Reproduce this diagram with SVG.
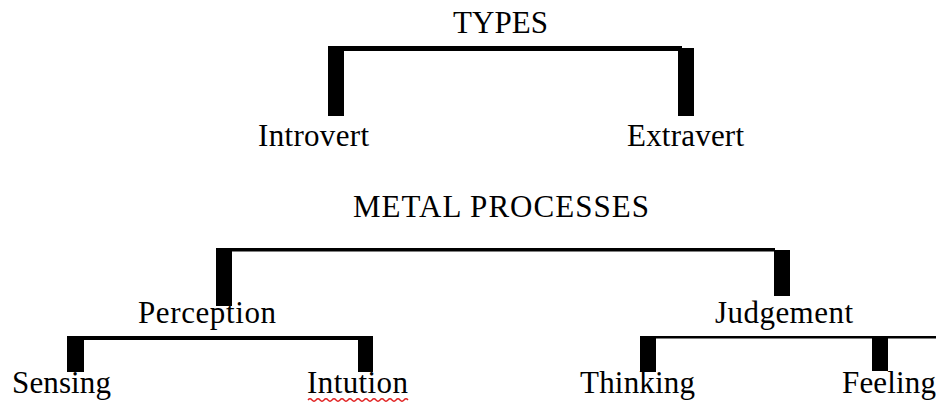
<svg xmlns="http://www.w3.org/2000/svg" width="942" height="406" viewBox="0 0 942 406">
<style>
text{font-family:"Liberation Serif","Times New Roman",serif;font-size:31px;fill:#000}
.bar{fill:#000}
.ln{fill:#000}
.sq{fill:none;stroke:#e02020;stroke-width:1.3}
</style>
<rect width="942" height="406" fill="#fff"/>
<g id="connectors">
<rect class="ln" x="328" y="46" width="354" height="5"/>
<rect class="bar" x="328" y="46" width="16" height="70"/>
<rect class="bar" x="678" y="48" width="16" height="68"/>
<rect class="ln" x="216" y="248" width="559" height="3.5"/>
<rect class="bar" x="216" y="248" width="16" height="58"/>
<rect class="bar" x="774" y="250" width="16" height="46"/>
<rect class="ln" x="67" y="336" width="306" height="4"/>
<rect class="bar" x="67" y="336" width="17" height="36"/>
<rect class="bar" x="358" y="336" width="15" height="36"/>
<rect class="ln" x="640" y="336" width="296" height="2.5"/>
<rect class="bar" x="640" y="336" width="16" height="36"/>
<rect class="bar" x="872" y="336" width="16" height="35"/>
</g>
<g id="types"><text x="453" y="33" textLength="95" lengthAdjust="spacing">TYPES</text></g>
<g id="introvert"><text x="258" y="146" textLength="111" lengthAdjust="spacing">Introvert</text></g>
<g id="extravert"><text x="627" y="146" textLength="117" lengthAdjust="spacing">Extravert</text></g>
<g id="mental-processes"><text x="353" y="217" textLength="296" lengthAdjust="spacing">METAL PROCESSES</text></g>
<g id="perception"><text x="138" y="323" textLength="138" lengthAdjust="spacing">Perception</text></g>
<g id="judgement"><text x="715" y="323" textLength="138" lengthAdjust="spacing">Judgement</text></g>
<g id="sensing"><text x="12" y="393" textLength="99" lengthAdjust="spacing">Sensing</text></g>
<g id="intution"><text x="307" y="393" textLength="101" lengthAdjust="spacing">Intution</text>
<path class="sq" d="M308 400 q2 -2.5 4 0 t4 0 t4 0 t4 0 t4 0 t4 0 t4 0 t4 0 t4 0 t4 0 t4 0 t4 0 t4 0 t4 0 t4 0 t4 0 t4 0 t4 0 t4 0 t4 0 t4 0 t4 0 t4 0 t4 0 t4 0"/></g>
<g id="thinking"><text x="580" y="393" textLength="115" lengthAdjust="spacing">Thinking</text></g>
<g id="feeling"><text x="842" y="393" textLength="94" lengthAdjust="spacing">Feeling</text></g>
</svg>
